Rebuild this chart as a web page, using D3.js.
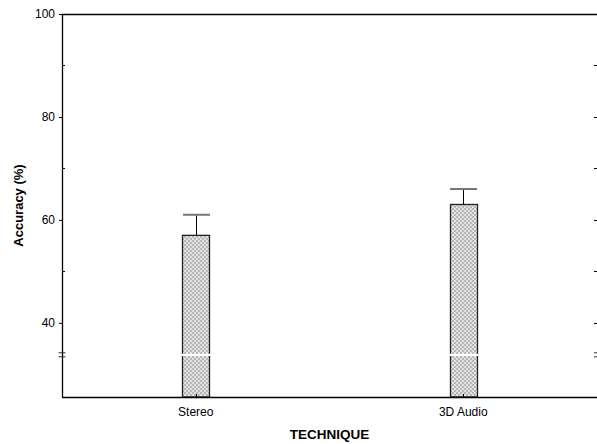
<!DOCTYPE html>
<html>
<head>
<meta charset="utf-8">
<script src="https://cdn.jsdelivr.net/npm/d3@7"></script>
<style>
  body { margin: 0; background: #fff; }
  text { font-family: Arial, "Liberation Sans", sans-serif; fill: #000; }
</style>
</head>
<body>
<svg id="chart" width="597" height="444"></svg>
<script>
// data
var techniques = ["Stereo", "3D Audio"];
var accuracy = [57, 63];
var errorTop = [61, 66];
var majorTicks = [40, 60, 80, 100];
var minorTicks = [50, 70, 90];
var rightTicks = [40, 50, 60, 70, 80, 90];
var breakAt = 33.8;

var svg = d3.select("#chart");
var margin = { top: 14, right: 0, bottom: 47, left: 62 };
var width = +svg.attr("width");
var height = +svg.attr("height");
var plotW = width - margin.left - margin.right;
var plotH = height - margin.top - margin.bottom;
var barWidth = 27;

// pattern for bar fill (checker look)
var defs = svg.append("defs");
var pat = defs.append("pattern")
  .attr("id", "dither")
  .attr("width", 4).attr("height", 4)
  .attr("patternUnits", "userSpaceOnUse");
pat.append("rect").attr("width", 4).attr("height", 4).attr("fill", "#e2e2e2").attr("shape-rendering", "crispEdges");
pat.append("rect").attr("width", 2).attr("height", 2).attr("fill", "#b6b6b6").attr("shape-rendering", "crispEdges");
pat.append("rect").attr("x", 2).attr("y", 2).attr("width", 2).attr("height", 2).attr("fill", "#b6b6b6").attr("shape-rendering", "crispEdges");

var g = svg.append("g").attr("transform", "translate(" + margin.left + "," + margin.top + ")");

// scales
var x = d3.scaleBand().domain(techniques).range([0, plotW]).padding(0);
var y = d3.scaleLinear().domain([25.6, 100]).range([plotH, 0]);

// bars
g.selectAll(".bar")
  .data(techniques)
  .enter().append("rect")
  .attr("class", "bar")
  .attr("x", function (d) { return Math.round(x(d) + x.bandwidth() / 2 - barWidth / 2) + 0.5; })
  .attr("y", function (d, i) { return y(accuracy[i]); })
  .attr("width", barWidth)
  .attr("height", function (d, i) { return plotH - y(accuracy[i]); })
  .attr("fill", "url(#dither)")
  .attr("stroke", "#222")
  .attr("stroke-width", 1.3);

// error bars
techniques.forEach(function (d, i) {
  var cx = Math.round(x(d) + x.bandwidth() / 2) + 0.5;
  g.append("line")
    .attr("x1", cx).attr("x2", cx)
    .attr("y1", y(accuracy[i])).attr("y2", y(errorTop[i]))
    .attr("stroke", "#000").attr("stroke-width", 1);
  g.append("line")
    .attr("x1", cx - barWidth / 2).attr("x2", cx + barWidth / 2)
    .attr("y1", y(errorTop[i])).attr("y2", y(errorTop[i]))
    .attr("stroke", "#777").attr("stroke-width", 2);
  // small x tick inside bar
  g.append("line")
    .attr("x1", cx).attr("x2", cx)
    .attr("y1", plotH).attr("y2", plotH - 3)
    .attr("stroke", "#000").attr("stroke-width", 1);
});

// axis break through bars
g.selectAll(".brk")
  .data(techniques)
  .enter().append("rect")
  .attr("x", function (d) { return x(d) + x.bandwidth() / 2 - barWidth / 2 - 1; })
  .attr("y", y(breakAt) - 1)
  .attr("width", barWidth + 3)
  .attr("height", 2.2)
  .attr("fill", "#fff");

// frame lines
g.append("line").attr("x1", 0.5).attr("x2", 0.5).attr("y1", 0).attr("y2", plotH).attr("stroke", "#000").attr("stroke-width", 1.3);
g.append("line").attr("x1", 0).attr("x2", plotW).attr("y1", 0.5).attr("y2", 0.5).attr("stroke", "#000").attr("stroke-width", 1.3);
g.append("line").attr("x1", 0).attr("x2", plotW).attr("y1", plotH + 0.5).attr("y2", plotH + 0.5).attr("stroke", "#000").attr("stroke-width", 1.3);

// left axis major ticks + labels
var yAxis = d3.axisLeft(y).tickValues(majorTicks).tickSize(3).tickPadding(4).tickFormat(d3.format("d"));
var ya = g.append("g").attr("class", "left axis").call(yAxis);
ya.select(".domain").remove();
ya.selectAll("text").attr("font-size", "12px").attr("fill", "#000");

// minor ticks inward
g.selectAll(".minor")
  .data(minorTicks)
  .enter().append("line")
  .attr("x1", 0).attr("x2", 3)
  .attr("y1", function (d) { return Math.round(y(d)) + 0.5; })
  .attr("y2", function (d) { return Math.round(y(d)) + 0.5; })
  .attr("stroke", "#000");

// right side ticks
g.selectAll(".rtick")
  .data(rightTicks)
  .enter().append("line")
  .attr("x1", plotW - 3).attr("x2", plotW)
  .attr("y1", function (d) { return Math.round(y(d)) + 0.5; })
  .attr("y2", function (d) { return Math.round(y(d)) + 0.5; })
  .attr("stroke", "#000");

// break marks on axes
[-2, 2].forEach(function (off) {
  g.append("line")
    .attr("x1", -3.5).attr("x2", 3.5)
    .attr("y1", y(breakAt) + off).attr("y2", y(breakAt) + off)
    .attr("stroke", "#333").attr("stroke-width", 1);
  g.append("line")
    .attr("x1", plotW - 3).attr("x2", plotW)
    .attr("y1", y(breakAt) + off).attr("y2", y(breakAt) + off)
    .attr("stroke", "#333").attr("stroke-width", 1);
});

// x tick labels
g.selectAll(".xlabel")
  .data(techniques)
  .enter().append("text")
  .attr("x", function (d) { return x(d) + x.bandwidth() / 2; })
  .attr("y", plotH + 19)
  .attr("text-anchor", "middle")
  .attr("font-size", "12px")
  .text(function (d) { return d; });

// axis titles
svg.append("text")
  .attr("x", margin.left + plotW / 2)
  .attr("y", 439)
  .attr("text-anchor", "middle")
  .attr("font-size", "13.5px")
  .attr("font-weight", "bold")
  .text("TECHNIQUE");

svg.append("text")
  .attr("transform", "translate(23," + (margin.top + plotH / 2) + ") rotate(-90)")
  .attr("text-anchor", "middle")
  .attr("font-size", "13px")
  .attr("font-weight", "bold")
  .text("Accuracy (%)");
</script>
</body>
</html>
